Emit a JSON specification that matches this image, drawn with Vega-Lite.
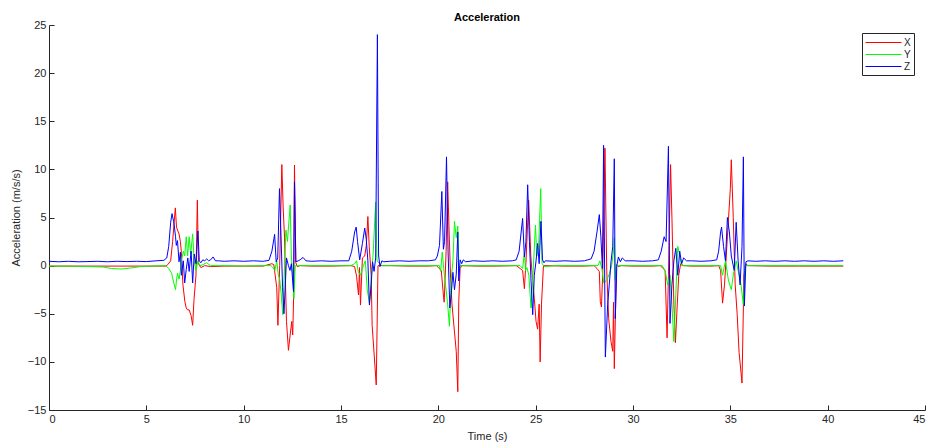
{
"$schema": "https://vega.github.io/schema/vega-lite/v6.json",
"autosize": "none",
"padding": {"left": 49, "top": 25, "right": 7, "bottom": 33},
"width": 876, "height": 385,
"background": "white",
"title": {"text": "Acceleration", "font": "Liberation Sans", "fontSize": 11, "fontWeight": "bold", "color": "#000000", "offset": -4},
"datasets": {
"X": [{"t":0,"v":-0.05},{"t":2,"v":-0.05},{"t":4,"v":-0.05},{"t":6.0,"v":-0.05},{"t":6.1,"v":0.1},{"t":6.25,"v":0.5},{"t":6.35,"v":2.5},{"t":6.43,"v":4.5},{"t":6.49,"v":6.0},{"t":6.55,"v":4.0},{"t":6.6,"v":3.7},{"t":6.68,"v":3.3},{"t":6.75,"v":2.5},{"t":6.8,"v":1.4},{"t":6.88,"v":-2.0},{"t":6.98,"v":-3.75},{"t":7.05,"v":-4.4},{"t":7.12,"v":-4.6},{"t":7.2,"v":-4.6},{"t":7.3,"v":-5.2},{"t":7.38,"v":-6.2},{"t":7.45,"v":-3.5},{"t":7.55,"v":-1.0},{"t":7.62,"v":6.8},{"t":7.68,"v":0.2},{"t":7.8,"v":-0.2},{"t":8.0,"v":0.0},{"t":8.3,"v":-0.1},{"t":9,"v":-0.05},{"t":10,"v":-0.05},{"t":11,"v":-0.05},{"t":11.45,"v":0.2},{"t":11.55,"v":0.1},{"t":11.7,"v":-2.3},{"t":11.76,"v":-6.2},{"t":11.85,"v":0.0},{"t":11.96,"v":10.5},{"t":12.03,"v":6.0},{"t":12.1,"v":2.9},{"t":12.15,"v":-2.0},{"t":12.2,"v":-5.8},{"t":12.3,"v":-8.8},{"t":12.4,"v":-7.0},{"t":12.47,"v":-5.8},{"t":12.52,"v":-7.2},{"t":12.57,"v":-3.0},{"t":12.61,"v":10.45},{"t":12.68,"v":0.3},{"t":12.75,"v":-0.1},{"t":12.9,"v":0.0},{"t":13.5,"v":-0.05},{"t":14.5,"v":-0.05},{"t":15.5,"v":0.0},{"t":15.7,"v":-0.1},{"t":15.8,"v":-1.1},{"t":15.9,"v":-3.05},{"t":15.95,"v":-0.2},{"t":16.0,"v":-4.1},{"t":16.1,"v":0.8},{"t":16.22,"v":1.0},{"t":16.3,"v":2.1},{"t":16.38,"v":5.1},{"t":16.45,"v":2.0},{"t":16.55,"v":-1.0},{"t":16.6,"v":-6.2},{"t":16.81,"v":-12.4},{"t":16.9,"v":0.0},{"t":17.0,"v":0.0},{"t":17.5,"v":0.0},{"t":18.5,"v":-0.05},{"t":19.5,"v":-0.05},{"t":19.9,"v":0.0},{"t":20.0,"v":-0.2},{"t":20.15,"v":-0.5},{"t":20.26,"v":-3.05},{"t":20.3,"v":-3.8},{"t":20.4,"v":1.5},{"t":20.48,"v":8.7},{"t":20.55,"v":3.8},{"t":20.63,"v":-1.3},{"t":20.7,"v":-4.0},{"t":20.83,"v":-6.9},{"t":20.92,"v":-8.9},{"t":21.0,"v":-13.1},{"t":21.05,"v":-3.7},{"t":21.12,"v":-0.3},{"t":21.2,"v":0.0},{"t":22,"v":-0.05},{"t":23,"v":-0.05},{"t":24.0,"v":0.0},{"t":24.2,"v":-0.3},{"t":24.33,"v":-0.5},{"t":24.42,"v":-2.4},{"t":24.5,"v":0.3},{"t":24.64,"v":6.8},{"t":24.75,"v":1.0},{"t":24.85,"v":-1.7},{"t":24.93,"v":-3.4},{"t":25.02,"v":-5.8},{"t":25.1,"v":-6.6},{"t":25.18,"v":-4.0},{"t":25.23,"v":-10.0},{"t":25.3,"v":-4.0},{"t":25.4,"v":0.0},{"t":25.5,"v":0.0},{"t":26.5,"v":-0.05},{"t":27.5,"v":-0.05},{"t":28.0,"v":0.0},{"t":28.15,"v":-0.3},{"t":28.27,"v":-0.6},{"t":28.32,"v":-3.75},{"t":28.38,"v":-4.3},{"t":28.45,"v":-0.5},{"t":28.56,"v":12.2},{"t":28.65,"v":-0.5},{"t":28.75,"v":-5.5},{"t":28.87,"v":-7.9},{"t":28.96,"v":-8.9},{"t":29.0,"v":-3.8},{"t":29.04,"v":-10.7},{"t":29.15,"v":0.1},{"t":29.25,"v":-0.1},{"t":29.4,"v":0.0},{"t":30,"v":-0.05},{"t":31,"v":-0.05},{"t":31.4,"v":0.0},{"t":31.5,"v":-0.2},{"t":31.65,"v":-0.5},{"t":31.75,"v":-7.5},{"t":31.82,"v":-1.0},{"t":31.93,"v":10.5},{"t":32.0,"v":5.0},{"t":32.1,"v":-4.0},{"t":32.18,"v":-8.0},{"t":32.25,"v":-5.0},{"t":32.35,"v":-1.0},{"t":32.45,"v":0.2},{"t":32.6,"v":0.0},{"t":33,"v":-0.05},{"t":34,"v":-0.05},{"t":34.4,"v":0.0},{"t":34.5,"v":-0.5},{"t":34.6,"v":-3.9},{"t":34.7,"v":-2.0},{"t":34.85,"v":3.0},{"t":35.0,"v":8.0},{"t":35.05,"v":11.0},{"t":35.15,"v":5.0},{"t":35.25,"v":-2.0},{"t":35.35,"v":-5.0},{"t":35.45,"v":-9.0},{"t":35.6,"v":-12.2},{"t":35.7,"v":-1.0},{"t":35.8,"v":0.2},{"t":35.9,"v":0.0},{"t":37,"v":-0.05},{"t":38.5,"v":-0.05},{"t":40,"v":-0.05},{"t":40.8,"v":-0.05}],
"Y": [{"t":0,"v":-0.05},{"t":1,"v":-0.05},{"t":2,"v":-0.1},{"t":2.8,"v":-0.15},{"t":3.2,"v":-0.3},{"t":3.7,"v":-0.35},{"t":4.2,"v":-0.25},{"t":4.7,"v":-0.1},{"t":5.2,"v":-0.05},{"t":6.0,"v":0.0},{"t":6.15,"v":-0.3},{"t":6.3,"v":-0.8},{"t":6.4,"v":-1.7},{"t":6.5,"v":-2.5},{"t":6.55,"v":-1.5},{"t":6.6,"v":-0.8},{"t":6.68,"v":-1.4},{"t":6.75,"v":-0.5},{"t":6.8,"v":0.5},{"t":6.9,"v":1.5},{"t":6.97,"v":1.0},{"t":7.05,"v":3.0},{"t":7.12,"v":1.0},{"t":7.2,"v":3.0},{"t":7.28,"v":1.2},{"t":7.38,"v":3.3},{"t":7.46,"v":0.5},{"t":7.55,"v":-0.5},{"t":7.65,"v":0.5},{"t":7.75,"v":0.0},{"t":7.9,"v":0.1},{"t":8.1,"v":0.3},{"t":8.3,"v":0.0},{"t":9,"v":0.0},{"t":10,"v":-0.05},{"t":11,"v":0.0},{"t":11.4,"v":0.0},{"t":11.5,"v":-0.2},{"t":11.6,"v":-0.5},{"t":11.7,"v":0.5},{"t":11.78,"v":-1.0},{"t":11.85,"v":-1.4},{"t":11.92,"v":-2.8},{"t":12.01,"v":-5.1},{"t":12.1,"v":0.0},{"t":12.17,"v":3.7},{"t":12.25,"v":2.5},{"t":12.32,"v":4.5},{"t":12.39,"v":6.3},{"t":12.45,"v":1.0},{"t":12.52,"v":-1.0},{"t":12.58,"v":-3.4},{"t":12.65,"v":0.0},{"t":12.75,"v":0.0},{"t":13.5,"v":0.0},{"t":14.5,"v":0.0},{"t":15.5,"v":0.0},{"t":15.7,"v":0.2},{"t":15.8,"v":0.5},{"t":15.88,"v":-0.6},{"t":16.0,"v":-1.0},{"t":16.15,"v":0.0},{"t":16.25,"v":0.5},{"t":16.35,"v":-2.5},{"t":16.46,"v":-3.9},{"t":16.55,"v":-1.5},{"t":16.65,"v":1.2},{"t":16.78,"v":6.6},{"t":16.85,"v":0.5},{"t":16.95,"v":0.3},{"t":17.1,"v":0.0},{"t":18,"v":0.0},{"t":19,"v":0.0},{"t":19.9,"v":0.0},{"t":20.05,"v":0.0},{"t":20.12,"v":-0.6},{"t":20.2,"v":1.4},{"t":20.3,"v":-0.8},{"t":20.38,"v":-2.2},{"t":20.47,"v":-3.8},{"t":20.57,"v":-6.3},{"t":20.66,"v":-1.5},{"t":20.75,"v":0.5},{"t":20.83,"v":4.6},{"t":20.92,"v":2.9},{"t":21.0,"v":4.1},{"t":21.06,"v":-0.4},{"t":21.12,"v":0.0},{"t":21.25,"v":0.0},{"t":22,"v":0.0},{"t":23,"v":0.0},{"t":24.0,"v":0.0},{"t":24.2,"v":0.0},{"t":24.33,"v":-0.3},{"t":24.42,"v":1.3},{"t":24.48,"v":-0.5},{"t":24.55,"v":-0.2},{"t":24.65,"v":-1.0},{"t":24.76,"v":-4.4},{"t":24.86,"v":-1.0},{"t":24.99,"v":4.2},{"t":25.06,"v":1.0},{"t":25.15,"v":1.8},{"t":25.26,"v":8.0},{"t":25.33,"v":0.2},{"t":25.45,"v":-0.1},{"t":26,"v":0.0},{"t":27,"v":0.0},{"t":28.0,"v":0.0},{"t":28.2,"v":0.0},{"t":28.3,"v":0.5},{"t":28.4,"v":-0.3},{"t":28.5,"v":-1.8},{"t":28.65,"v":-1.5},{"t":28.8,"v":-0.8},{"t":28.9,"v":0.0},{"t":29.0,"v":1.5},{"t":29.04,"v":2.9},{"t":29.09,"v":-1.5},{"t":29.15,"v":0.0},{"t":29.3,"v":0.0},{"t":30,"v":0.0},{"t":31,"v":0.0},{"t":31.4,"v":0.0},{"t":31.5,"v":0.0},{"t":31.65,"v":-0.5},{"t":31.78,"v":-2.0},{"t":31.9,"v":-1.0},{"t":32.0,"v":-4.0},{"t":32.1,"v":-7.9},{"t":32.2,"v":-3.0},{"t":32.3,"v":2.0},{"t":32.4,"v":1.0},{"t":32.5,"v":0.0},{"t":32.6,"v":0.0},{"t":33.5,"v":0.0},{"t":34.4,"v":0.0},{"t":34.5,"v":0.0},{"t":34.6,"v":-1.0},{"t":34.75,"v":0.5},{"t":34.9,"v":-1.5},{"t":35.05,"v":-2.5},{"t":35.15,"v":-1.0},{"t":35.3,"v":0.5},{"t":35.45,"v":-1.0},{"t":35.55,"v":-2.0},{"t":35.67,"v":-4.1},{"t":35.75,"v":0.0},{"t":35.9,"v":0.0},{"t":37,"v":0.0},{"t":38.5,"v":0.0},{"t":40,"v":0.0},{"t":40.8,"v":0.0}],
"Z": [{"t":0,"v":0.45},{"t":0.5,"v":0.4},{"t":1,"v":0.45},{"t":1.5,"v":0.4},{"t":2,"v":0.42},{"t":2.5,"v":0.45},{"t":3,"v":0.4},{"t":3.5,"v":0.45},{"t":4,"v":0.42},{"t":4.5,"v":0.45},{"t":5,"v":0.42},{"t":5.5,"v":0.5},{"t":5.9,"v":0.55},{"t":6.05,"v":0.8},{"t":6.15,"v":2.0},{"t":6.25,"v":4.5},{"t":6.32,"v":5.4},{"t":6.4,"v":4.6},{"t":6.45,"v":3.9},{"t":6.5,"v":3.0},{"t":6.54,"v":2.1},{"t":6.6,"v":2.6},{"t":6.68,"v":0.4},{"t":6.75,"v":1.4},{"t":6.8,"v":-1.0},{"t":6.9,"v":0.5},{"t":6.97,"v":-1.8},{"t":7.05,"v":-0.4},{"t":7.13,"v":0.8},{"t":7.2,"v":-0.6},{"t":7.3,"v":1.5},{"t":7.38,"v":-1.8},{"t":7.46,"v":1.2},{"t":7.55,"v":0.2},{"t":7.65,"v":3.6},{"t":7.72,"v":0.5},{"t":7.8,"v":0.3},{"t":7.9,"v":0.6},{"t":8.0,"v":0.5},{"t":8.1,"v":0.7},{"t":8.2,"v":0.5},{"t":8.3,"v":0.6},{"t":8.43,"v":0.9},{"t":8.55,"v":0.5},{"t":8.7,"v":0.5},{"t":9.0,"v":0.45},{"t":9.5,"v":0.5},{"t":10,"v":0.45},{"t":10.5,"v":0.5},{"t":11,"v":0.45},{"t":11.3,"v":0.55},{"t":11.45,"v":1.5},{"t":11.59,"v":3.25},{"t":11.67,"v":0.4},{"t":11.75,"v":0.8},{"t":11.84,"v":8.0},{"t":11.92,"v":3.0},{"t":12.0,"v":-2.3},{"t":12.07,"v":-5.0},{"t":12.15,"v":-1.5},{"t":12.2,"v":0.8},{"t":12.3,"v":0.0},{"t":12.38,"v":-0.5},{"t":12.45,"v":0.2},{"t":12.56,"v":-2.7},{"t":12.61,"v":8.7},{"t":12.68,"v":0.4},{"t":12.8,"v":0.5},{"t":12.9,"v":0.6},{"t":13.05,"v":0.85},{"t":13.2,"v":0.5},{"t":13.5,"v":0.45},{"t":14,"v":0.5},{"t":14.5,"v":0.45},{"t":15,"v":0.5},{"t":15.4,"v":0.5},{"t":15.55,"v":1.5},{"t":15.7,"v":3.5},{"t":15.78,"v":4.0},{"t":15.85,"v":2.5},{"t":15.96,"v":0.6},{"t":16.1,"v":2.3},{"t":16.22,"v":3.9},{"t":16.3,"v":2.7},{"t":16.38,"v":0.5},{"t":16.46,"v":-4.1},{"t":16.55,"v":-2.0},{"t":16.62,"v":0.4},{"t":16.7,"v":-0.6},{"t":16.78,"v":0.8},{"t":16.87,"v":24.0},{"t":16.93,"v":1.1},{"t":17.0,"v":-0.1},{"t":17.1,"v":0.5},{"t":17.2,"v":0.4},{"t":17.5,"v":0.45},{"t":18,"v":0.5},{"t":18.5,"v":0.45},{"t":19,"v":0.5},{"t":19.5,"v":0.5},{"t":19.85,"v":0.6},{"t":19.95,"v":1.0},{"t":20.06,"v":2.1},{"t":20.18,"v":7.7},{"t":20.26,"v":1.7},{"t":20.32,"v":2.5},{"t":20.42,"v":11.3},{"t":20.5,"v":1.5},{"t":20.59,"v":-4.4},{"t":20.66,"v":-3.0},{"t":20.75,"v":-0.7},{"t":20.83,"v":-2.5},{"t":20.92,"v":-0.9},{"t":21.0,"v":3.5},{"t":21.05,"v":-1.6},{"t":21.12,"v":0.6},{"t":21.2,"v":0.2},{"t":21.28,"v":0.6},{"t":21.4,"v":0.4},{"t":21.8,"v":0.5},{"t":22.3,"v":0.45},{"t":22.8,"v":0.5},{"t":23.3,"v":0.45},{"t":23.8,"v":0.5},{"t":24.0,"v":0.6},{"t":24.15,"v":1.5},{"t":24.33,"v":4.9},{"t":24.42,"v":0.9},{"t":24.5,"v":2.5},{"t":24.59,"v":8.4},{"t":24.68,"v":2.5},{"t":24.76,"v":-1.5},{"t":24.85,"v":-5.1},{"t":24.93,"v":-1.0},{"t":25.02,"v":0.5},{"t":25.1,"v":2.3},{"t":25.18,"v":0.2},{"t":25.27,"v":4.6},{"t":25.35,"v":0.6},{"t":25.43,"v":0.3},{"t":25.5,"v":0.5},{"t":26,"v":0.45},{"t":26.5,"v":0.5},{"t":27,"v":0.45},{"t":27.5,"v":0.5},{"t":27.85,"v":0.7},{"t":28.0,"v":1.5},{"t":28.15,"v":3.5},{"t":28.27,"v":5.3},{"t":28.35,"v":3.0},{"t":28.43,"v":-0.3},{"t":28.49,"v":12.5},{"t":28.58,"v":-9.5},{"t":28.7,"v":-4.0},{"t":28.78,"v":-2.0},{"t":28.87,"v":0.4},{"t":28.96,"v":2.0},{"t":29.04,"v":11.1},{"t":29.09,"v":-5.5},{"t":29.17,"v":0.0},{"t":29.25,"v":0.9},{"t":29.35,"v":0.4},{"t":29.45,"v":0.8},{"t":29.6,"v":0.5},{"t":30,"v":0.5},{"t":30.5,"v":0.45},{"t":31,"v":0.5},{"t":31.3,"v":0.6},{"t":31.45,"v":1.5},{"t":31.6,"v":3.0},{"t":31.7,"v":2.5},{"t":31.82,"v":12.4},{"t":31.9,"v":-6.0},{"t":32.0,"v":-2.0},{"t":32.1,"v":0.5},{"t":32.2,"v":1.8},{"t":32.3,"v":-1.0},{"t":32.4,"v":1.5},{"t":32.5,"v":0.2},{"t":32.6,"v":0.8},{"t":32.75,"v":0.5},{"t":33,"v":0.5},{"t":33.5,"v":0.45},{"t":34,"v":0.5},{"t":34.3,"v":0.6},{"t":34.4,"v":1.5},{"t":34.5,"v":3.5},{"t":34.55,"v":4.0},{"t":34.65,"v":2.0},{"t":34.75,"v":0.5},{"t":34.85,"v":5.0},{"t":34.95,"v":3.5},{"t":35.05,"v":1.0},{"t":35.2,"v":-0.5},{"t":35.3,"v":4.5},{"t":35.4,"v":0.5},{"t":35.5,"v":-2.0},{"t":35.6,"v":2.0},{"t":35.67,"v":11.3},{"t":35.72,"v":-4.2},{"t":35.8,"v":0.4},{"t":35.9,"v":0.5},{"t":36.3,"v":0.45},{"t":36.8,"v":0.5},{"t":37.3,"v":0.45},{"t":37.8,"v":0.5},{"t":38.3,"v":0.45},{"t":38.8,"v":0.5},{"t":39.3,"v":0.45},{"t":39.8,"v":0.5},{"t":40.3,"v":0.45},{"t":40.8,"v":0.5}]
},
"encoding": {
 "x": {"field": "t", "type": "quantitative", "scale": {"domain": [0, 45], "nice": false, "zero": false},
   "axis": {"title": "Time (s)", "values": [0,5,10,15,20,25,30,35,40,45], "grid": false}},
 "y": {"field": "v", "type": "quantitative", "scale": {"domain": [-15, 25], "nice": false, "zero": false},
   "axis": {"title": "Acceleration (m/s/s)", "values": [-15,-10,-5,0,5,10,15,20,25], "grid": false}},
 "color": {"datum": "X", "type": "nominal",
   "scale": {"domain": ["X","Y","Z"], "range": ["#ff0000","#00ff00","#0000ff"]},
   "legend": {"title": null, "orient": "none", "legendX": 813, "legendY": 8,
     "symbolType": "M-3,0H3", "symbolSize": 144, "symbolOffset": 12, "labelOffset": 14, "symbolStrokeWidth": 1,
     "labelFont": "Liberation Sans", "labelFontSize": 10, "labelColor": "#262626",
     "fillColor": "white", "strokeColor": "#262626", "padding": 3, "rowPadding": 0,
     "encode": {"symbols": {"update": {"stroke": {"scale": "color", "field": "value"}, "fill": {"value": "transparent"}, "strokeWidth": {"value": 1}, "opacity": {"value": 1}}}}}}
},
"layer": [
 {"data": {"name": "X"}, "mark": {"type": "line", "strokeWidth": 1, "interpolate": "linear"}, "encoding": {"color": {"datum": "X", "type": "nominal"}}},
 {"data": {"name": "Y"}, "mark": {"type": "line", "strokeWidth": 1, "interpolate": "linear"}, "encoding": {"color": {"datum": "Y", "type": "nominal"}}},
 {"data": {"name": "Z"}, "mark": {"type": "line", "strokeWidth": 1, "interpolate": "linear"}, "encoding": {"color": {"datum": "Z", "type": "nominal"}}}
],
"config": {
 "view": {"stroke": null},
 "axis": {"domainColor": "#262626", "tickColor": "#262626", "labelColor": "#262626", "titleColor": "#262626",
   "labelFont": "Liberation Sans", "titleFont": "Liberation Sans", "labelFontSize": 11, "titleFontSize": 11,
   "titleFontWeight": "normal", "tickSize": -5, "labelPadding": 8, "domainWidth": 1, "tickWidth": 1},
 "axisX": {"titlePadding": 6},
 "axisY": {"titlePadding": 6}
}
}
